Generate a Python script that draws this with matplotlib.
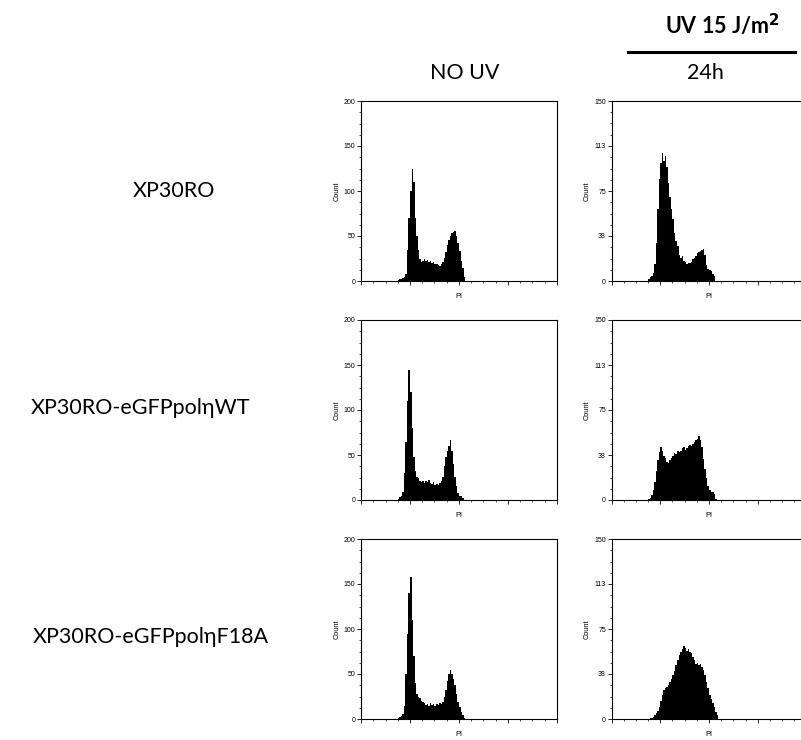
import numpy as np
import matplotlib
matplotlib.use('Agg')
import matplotlib.pyplot as plt
from matplotlib.ticker import MultipleLocator, FixedLocator

# histogram bins: 8 channels wide, starting at channel 184 (1024-channel PI scale)
bin_start = 184
bin_width = 8

# NO UV column
xp30ro_nouv = [0, 1, 2, 2, 3, 4, 8, 35, 70, 100, 125, 110, 70, 50, 34, 25, 21,
               22, 24, 22, 23, 21, 22, 20, 21, 19, 19, 18, 17, 19, 21, 26, 32,
               40, 46, 50, 53, 55, 56, 50, 42, 33, 22, 14, 5, 0]
wt_nouv = [0, 1, 3, 5, 9, 30, 65, 110, 144, 120, 80, 48, 32, 26, 24, 21, 20,
           21, 19, 21, 20, 22, 19, 18, 20, 17, 18, 17, 19, 21, 26, 38, 48, 55,
           60, 67, 55, 40, 26, 16, 8, 5, 4, 2, 0]
f18a_nouv = [0, 1, 2, 3, 6, 15, 50, 95, 140, 158, 110, 70, 40, 28, 25, 23, 20,
             19, 18, 16, 17, 15, 18, 16, 17, 15, 17, 16, 18, 17, 19, 24, 32,
             42, 50, 54, 50, 44, 38, 28, 19, 13, 8, 4, 1, 0]

# UV 15 J/m2, 24h column
xp30ro_uv = [0, 2, 3, 4, 7, 14, 32, 60, 85, 98, 107, 100, 104, 95, 82, 70, 60,
             52, 40, 33, 29, 22, 19, 21, 17, 16, 14, 15, 15, 16, 18, 19, 21,
             23, 24, 25, 26, 27, 22, 13, 10, 9, 8, 6, 4, 0]
wt_uv = [0, 1, 2, 4, 8, 15, 24, 33, 40, 44, 41, 37, 35, 32, 31, 33, 35, 37,
         39, 38, 41, 40, 41, 43, 44, 42, 43, 45, 46, 45, 47, 48, 50, 51, 53,
         50, 44, 34, 26, 18, 12, 8, 7, 7, 5, 1, 0]
f18a_uv = [0, 0, 1, 1, 2, 3, 5, 7, 10, 15, 20, 24, 26, 27, 28, 31, 33, 37, 40,
           45, 49, 53, 56, 58, 61, 59, 57, 58, 56, 55, 52, 49, 46, 47, 45, 46,
           43, 41, 37, 31, 26, 20, 17, 13, 10, 6, 3, 0]

row_labels = ['XP30RO', 'XP30RO-eGFPpol\u03b7WT', 'XP30RO-eGFPpol\u03b7F18A']
nouv_data = [xp30ro_nouv, wt_nouv, f18a_nouv]
uv_data = [xp30ro_uv, wt_uv, f18a_uv]

W, H = 801, 740
fig = plt.figure(figsize=(W / 100, H / 100), dpi=100)

def fx(px):
    return px / W

def fy(py):
    return 1 - py / H

tick_font = 'Liberation Sans'
label_font = ['Lato', 'Noto Sans', 'DejaVu Sans']

rows_top = [101, 320, 539]
col_left = [361, 611.5]
col_w = [196, 195]
ax_h = 180


def draw_hist(ax, counts, ymax, yticks, yticklabels):
    edges = bin_start + bin_width * np.arange(len(counts) + 1)
    ax.stairs(counts, edges, fill=True, color='black', linewidth=0)
    ax.set_xlim(0, 1024)
    ax.set_ylim(0, ymax)
    ax.xaxis.set_major_locator(MultipleLocator(256))
    ax.xaxis.set_minor_locator(MultipleLocator(64))
    ax.set_xticklabels([])
    ax.yaxis.set_major_locator(FixedLocator(yticks))
    ax.yaxis.set_minor_locator(MultipleLocator(ymax / 16))
    ax.set_yticklabels(yticklabels, fontfamily=tick_font, fontsize=5)
    ax.tick_params(which='major', length=3, width=0.6, pad=1)
    ax.tick_params(which='minor', length=1.6, width=0.5)
    for s in ax.spines.values():
        s.set_linewidth(0.8)
    ax.set_ylabel('Count', fontfamily=tick_font, fontsize=5.3, va='center')
    ax.yaxis.set_label_coords(-0.123, 0.5)
    ax.set_xlabel('PI', fontfamily=tick_font, fontsize=5.3, va='center')
    ax.xaxis.set_label_coords(0.5, -0.085)


for r in range(3):
    top = rows_top[r]
    for c in range(2):
        ax = fig.add_axes([fx(col_left[c]), fy(top + ax_h), fx(col_w[c]), ax_h / H])
        if c == 0:
            draw_hist(ax, nouv_data[r], 200, [0, 50, 100, 150, 200],
                      ['0', '50', '100', '150', '200'])
        else:
            draw_hist(ax, uv_data[r], 150, [0, 37.5, 75, 112.5, 150],
                      ['0', '38', '75', '113', '150'])

# row labels
row_x = [174, 140.5, 151]
row_y = [191, 408, 637]
for lab, x, y in zip(row_labels, row_x, row_y):
    fig.text(fx(x), fy(y), lab, ha='center', va='center', fontsize=15.5,
             family=label_font)

# column headers
fig.text(fx(465), fy(73), 'NO UV', ha='center', va='center', fontsize=15.5,
         family=label_font)
fig.text(fx(705), fy(73), '24h', ha='center', va='center', fontsize=15.5,
         family=label_font)
fig.text(fx(722), fy(25), 'UV 15 J/m$^{\\mathbf{2}}$', ha='center', va='center',
         fontsize=15.5, fontweight='bold', family=label_font)
fig.add_artist(plt.Line2D([fx(628), fx(795)], [fy(52), fy(52)], color='black',
                          linewidth=2.2))

fig.savefig('out.png', dpi=100)
